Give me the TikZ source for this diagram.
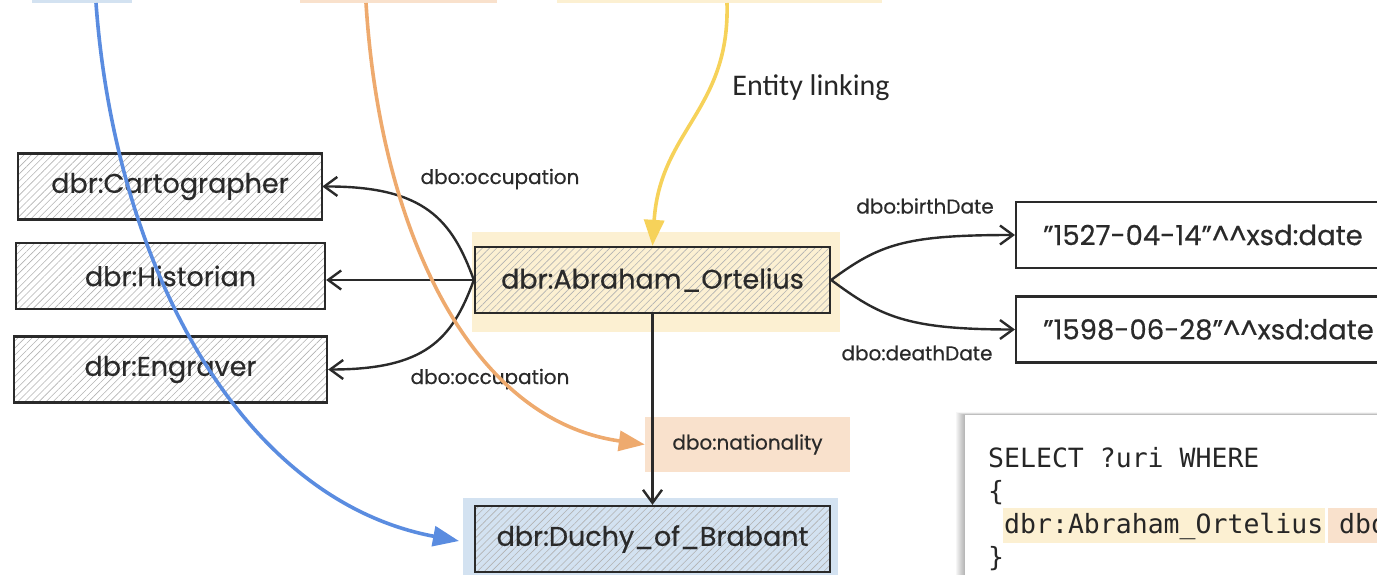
\documentclass[tikz,border=0pt]{standalone}
\usepackage{fontspec}
\setmainfont{Poppins}[FakeBold=0.5]
\newfontfamily\notefont{Carlito}
\newfontfamily\codefont{DejaVu Sans Mono}
\usetikzlibrary{arrows.meta,patterns.meta}

\definecolor{ink}{HTML}{2A2A2A}
\definecolor{hatch}{HTML}{B2B2B2}
\definecolor{hlyellow}{HTML}{FCF0D2}
\definecolor{hlorange}{HTML}{F9E1CC}
\definecolor{hlblue}{HTML}{D3E2F1}
\definecolor{lnblue}{HTML}{5A8CE0}
\definecolor{lnorange}{HTML}{EEAA6E}
\definecolor{lnyellow}{HTML}{F6D25A}

\tikzset{
  entity/.style={draw=ink, line width=2.3pt, inner sep=0pt,
    pattern={Lines[angle=45,distance=5pt,line width=0.6pt]}, pattern color=hatch,
    minimum height=66pt, font=\fontsize{27}{30}\selectfont, text=ink},
  literal/.style={draw=ink, line width=2.3pt, anchor=west, minimum height=66pt,
    text width=360pt, inner xsep=27pt, inner ysep=0pt, align=left,
    font=\fontsize{27.5}{31}\selectfont, text=ink},
  edgelabel/.style={inner sep=0pt, font=\fontsize{20}{22}\selectfont, text=ink},
  rel/.style={draw=ink, line width=2.4pt, -{Straight Barb[length=13pt,width=19pt]}},
  flow/.style={line width=3.6pt, -{Triangle[length=26pt,width=20pt]}},
  codeline/.style={anchor=base west, inner sep=0pt, text=black!85,
    font=\codefont\fontsize{26.5}{33}\selectfont},
}

\begin{document}
\begin{tikzpicture}[x=1pt,y=-1pt]
\useasboundingbox (0,0) rectangle (1377,575);
\begin{scope}
\clip (0,0) rectangle (1377,575);

% highlighted source boxes running off the top edge
\fill[hlblue]   (32,-40)  rectangle (132,3);
\fill[hlorange] (300,-40) rectangle (497,3);
\fill[hlyellow] (557,-40) rectangle (882,3);
\coordinate (srcblue)   at (96,3);
\coordinate (srcorange) at (366,3);
\coordinate (srcyellow) at (727,3);

% highlight backgrounds
\fill[hlyellow] (472,232) rectangle (840,332);
\fill[hlblue]   (463,498) rectangle (838,585);
\node[fill=hlorange, minimum width=205pt, minimum height=55pt, inner sep=0pt,
      font=\fontsize{20}{22}\selectfont, text=ink] (nat) at (747.5,444.5) {dbo:nationality};

% SPARQL panel with soft shadow
\foreach \i in {1,...,9}
  \fill[black, opacity=0.035] (965-\i,415-0.3*\i) rectangle (1400,600);
\fill[white] (965,415) rectangle (1400,600);
\fill[hlyellow] (1003,508) rectangle (1325,543);
\fill[hlorange] (1328,508) rectangle (1400,543);
\node[codeline] (q1) at (988,467) {SELECT ?uri WHERE};
\node[codeline] (q2) at (988,500) {\{};
\node[codeline] (q3) at (1004,533) {dbr:Abraham\_Ortelius dbo};
\node[codeline] (q4) at (988,566) {\}};

% entities
\node[entity, minimum width=304pt] (cart) at (170,186.5) {dbr:Cartographer};
\node[entity, minimum width=309pt] (hist) at (170.5,276) {dbr:Historian};
\node[entity, minimum width=313pt] (eng)  at (170.5,369.5) {dbr:Engraver};
\node[entity, minimum width=355pt] (ort)  at (652.5,280) {dbr:Abraham\_Ortelius};
\node[entity, minimum width=355pt] (duchy) at (652.5,539) {dbr:Duchy\_of\_Brabant};

% literals
\node[literal] (birth) at (1015,235) {"1527-04-14"\textasciicircum\textasciicircum xsd:date};
\node[literal] (death) at (1015,329.5) {"1598-06-28"\textasciicircum\textasciicircum xsd:date};

% relations
\draw[rel] (ort.west) .. controls (452,220) and (425,186) .. (cart.east);
\draw[rel] (ort.west) -- (ort.west -| hist.east);
\draw[rel] (ort.west) .. controls (452,340) and (425,369.5) .. (eng.east);
\draw[rel] (ort.east) .. controls (880,244) and (905,235) .. (birth.west);
\draw[rel] (ort.east) .. controls (880,316) and (905,329.5) .. (death.west);
\draw[rel] (ort.south) -- (duchy.north);

\node[edgelabel] (occ1) at (500,179) {dbo:occupation};
\node[edgelabel] (occ2) at (490,379) {dbo:occupation};
\node[edgelabel] (bd)   at (925,206) {dbo:birthDate};
\node[edgelabel] (dd)   at (917,353) {dbo:deathDate};

% alignment flows
\draw[flow, lnblue]   (srcblue) .. controls (115,265) and (240,500) .. (459,541);
\draw[flow, lnorange] (srcorange) .. controls (380,230) and (470,420) .. (nat.west);
\draw[flow, lnyellow] (srcyellow) .. controls (730,110) and (660,130) .. (ort.north);

\node[font=\notefont\fontsize{30}{34}\selectfont, text=black!85] (el) at (811,88) {Entity linking};
\end{scope}
\end{tikzpicture}
\end{document}
